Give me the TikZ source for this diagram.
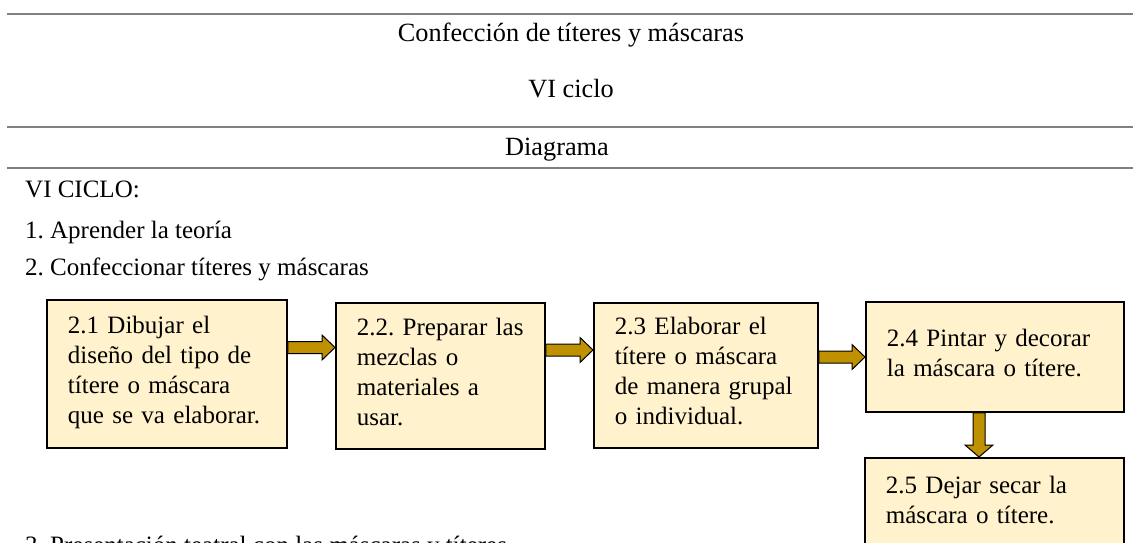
\documentclass[tikz,border=0pt]{standalone}
\usepackage{fontspec}
\setmainfont{Liberation Serif}
\usetikzlibrary{calc}
\frenchspacing
\definecolor{crema}{HTML}{FFF2CC}
\definecolor{oro}{HTML}{BF9000}
\definecolor{gris}{HTML}{808080}
\tikzset{
  paso/.style={draw=black, line width=1.8pt, fill=crema, anchor=north west, align=left, inner xsep=21pt, inner ysep=0pt},
  texto/.style={inner sep=0pt},
  cabecera/.style={inner sep=0pt, anchor=base, font=\fontsize{26.3}{30}\selectfont},
  raya/.style={draw=gris, line width=2pt},
  bloque/.style={draw=black, line width=1pt, fill=oro, line join=miter},
}
\newcommand{\flechader}[3]{%
  \draw[bloque] let \p1=(#1.east |- 0,#3), \p2=(#2.west) in
  (\x1,\y1+6pt) -- (\x2-13pt,\y1+6pt) -- (\x2-13pt,\y1+12.5pt) -- (\x2,\y1)
  -- (\x2-13pt,\y1-12.5pt) -- (\x2-13pt,\y1-6pt) -- (\x1,\y1-6pt) -- cycle;}
\newcommand{\flechaabajo}[3]{%
  \draw[bloque] let \p1=(#1.south -| #3,0), \p2=(#2.north) in
  (\x1-6pt,\y1) -- (\x1-6pt,\y2+12pt) -- (\x1-14pt,\y2+12pt) -- (\x1,\y2)
  -- (\x1+14pt,\y2+12pt) -- (\x1+6pt,\y2+12pt) -- (\x1+6pt,\y1) -- cycle;}
\begin{document}
\begin{tikzpicture}[x=1pt, y=-1pt, font=\fontsize{25}{30}\selectfont]
\useasboundingbox (0,0) rectangle (1133,543);
\clip (0,0) rectangle (1133,543);
\foreach \alt in {14,127,168}
  \draw[raya] (7,\alt) -- (1133,\alt);
\node[cabecera] (titulo) at (571,42) {Confección de títeres y máscaras};
\node[cabecera] (ciclo) at (571,97) {VI ciclo};
\node[cabecera] (diagrama) at (557,155) {Diagrama};
\node[texto, anchor=base west] (vi) at (25,197) {VI CICLO:};
\node[texto, anchor=base west] (uno) at (25,238) {1. Aprender la teoría};
\node[texto, anchor=base west] (dos) at (25,275) {2. Confeccionar títeres y máscaras};
\node[texto, anchor=base west] (tres) at (25,553) {3. Presentación teatral con las máscaras y títeres};
\node[paso, text width=198pt, minimum height=148pt] (p1) at (46,299)
  {2.1 Dibujar el\\diseño del tipo de\\títere o máscara\\que se va elaborar.\strut};
\node[paso, text width=167pt, minimum height=146pt] (p2) at (335,302)
  {2.2. Preparar las\\mezclas o\\materiales a\\usar.\strut};
\node[paso, text width=182pt, minimum height=145pt] (p3) at (593,302)
  {2.3 Elaborar el\\títere o máscara\\de manera grupal\\o individual.\strut};
\node[paso, text width=216pt, minimum height=110pt] (p4) at (865,301)
  {2.4 Pintar y decorar\\la máscara o títere.\strut};
\node[paso, text width=217pt, minimum height=92pt] (p5) at (864,457)
  {2.5 Dejar secar la\\máscara o títere.\strut};
\foreach \desde/\hasta/\alt in {p1/p2/347.5,p2/p3/350,p3/p4/357}
  \flechader{\desde}{\hasta}{\alt};
\flechaabajo{p4}{p5}{979};
\end{tikzpicture}
\end{document}
